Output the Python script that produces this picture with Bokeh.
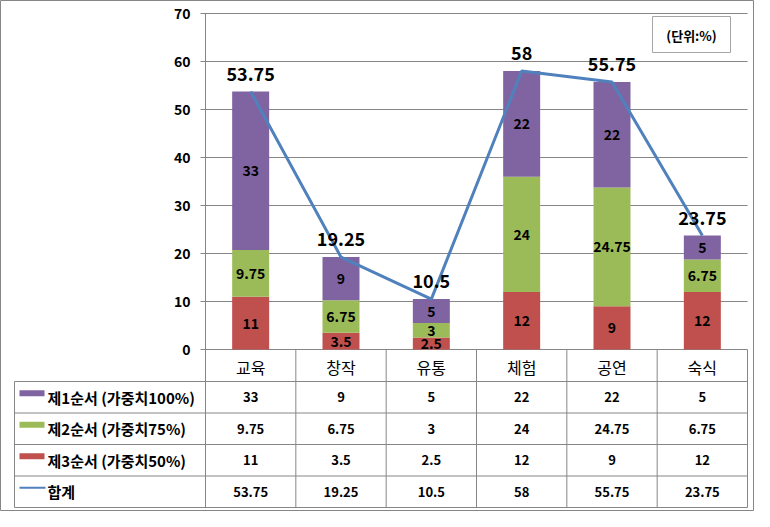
from bokeh.plotting import figure
from bokeh.models import Range1d, ColumnDataSource
from bokeh.core.properties import value
from bokeh.embed import file_html
from bokeh.resources import INLINE
import numpy as np

# ---------------- data ----------------
categories = ["교육", "창작", "유통", "체험", "공연", "숙식"]
first = [33, 9, 5, 22, 22, 5]            # 제1순서 (가중치100%)
second = [9.75, 6.75, 3, 24, 24.75, 6.75]  # 제2순서 (가중치75%)
third = [11, 3.5, 2.5, 12, 9, 12]        # 제3순서 (가중치50%)
total = [53.75, 19.25, 10.5, 58, 55.75, 23.75]  # 합계
series_names = ["제1순서 (가중치100%)", "제2순서 (가중치75%)", "제3순서 (가중치50%)", "합계"]
y_ticks = [0, 10, 20, 30, 40, 50, 60, 70]
unit_label = "(단위:%)"

# ---------------- styles ----------------
C_PURPLE = "#8064A2"
C_GREEN = "#9BBB59"
C_RED = "#C0504D"
C_BLUE = "#4F81BD"
C_GRID = "#868686"
FONT = value("Noto Sans CJK KR")

# layout helpers: page pixel -> data coordinate
PX_X = 542 / 6.0
PX_Y = 336 / 70.0
def X(px):
    return (px - 213) / PX_X
def Y(py):
    return (357 - py) / PX_Y

p = figure(width=754, height=511, output_backend="svg", toolbar_location=None,
           x_range=Range1d(X(8), X(762)), y_range=Range1d(Y(519), Y(8)),
           min_border=0, min_border_left=0, min_border_right=0,
           min_border_top=0, min_border_bottom=0)
p.xaxis.visible = False
p.yaxis.visible = False
p.grid.visible = False
p.outline_line_color = C_GRID
p.outline_line_width = 1
p.background_fill_color = "white"
p.border_fill_color = "white"

n = len(categories)
xs = np.arange(n) + 0.5

# gridlines + tick marks
p.segment(x0=[X(208)] * len(y_ticks), x1=[6] * len(y_ticks), y0=y_ticks, y1=y_ticks,
          line_color=C_GRID, line_width=1)
# vertical axis line
p.segment(x0=[0], x1=[0], y0=[0], y1=[max(y_ticks)], line_color=C_GRID, line_width=1)
# y tick labels
p.text(x=[X(198)] * len(y_ticks), y=y_ticks, text=[str(t) for t in y_ticks],
       text_font=FONT, text_font_style="bold", text_font_size="14px",
       text_align="right", text_baseline="middle", text_color="black")

# stacked bars
src = ColumnDataSource(dict(x=xs, third=third, second=second, first=first))
p.vbar_stack(["third", "second", "first"], x="x", width=37 / PX_X, source=src,
             color=[C_RED, C_GREEN, C_PURPLE], line_color=None)

# segment labels
t = np.array(third, float); s = np.array(second, float); f = np.array(first, float)
mids = [t / 2, t + s / 2, t + s + f / 2]
vals = [third, second, first]
for m, v in zip(mids, vals):
    p.text(x=xs, y=m, text=[f"{q:g}" for q in v], text_font=FONT, text_font_style="bold",
           text_font_size="14px", text_align="center", text_baseline="middle",
           text_color="black")

# total line
p.line(x=xs, y=total, line_color=C_BLUE, line_width=3)
p.text(x=xs, y=total, text=[f"{q:g}" for q in total], y_offset=-18,
       text_font=FONT, text_font_style="bold", text_font_size="18px",
       text_align="center", text_baseline="middle", text_color="black")

# unit box
p.quad(left=[X(660)], right=[X(738)], bottom=[Y(60)], top=[Y(24)],
       fill_color="white", line_color="#a6a6a6", line_width=1)
p.text(x=[X(699)], y=[Y(43)], text=[unit_label], text_font=FONT,
       text_font_size="13px", text_font_style="bold", text_align="center",
       text_baseline="middle", text_color="black")

# ---------------- data table ----------------
row_edges = [389, 420.5, 452, 483.5, 515]
table_left = X(22)
# vertical column separators
p.segment(x0=list(range(n + 1)), x1=list(range(n + 1)), y0=[0] * (n + 1),
          y1=[Y(row_edges[-1])] * (n + 1), line_color=C_GRID, line_width=1)
p.segment(x0=[table_left], x1=[table_left], y0=[Y(row_edges[0])], y1=[Y(row_edges[-1])],
          line_color=C_GRID, line_width=1)
# horizontal lines
p.segment(x0=[table_left] * len(row_edges), x1=[6] * len(row_edges),
          y0=[Y(r) for r in row_edges], y1=[Y(r) for r in row_edges],
          line_color=C_GRID, line_width=1)

# header
p.text(x=xs, y=[Y(374)] * n, text=categories, text_font=FONT, text_font_size="16px",
       text_align="center", text_baseline="middle", text_color="black")

rows = [first, second, third, total]
row_centers = [(row_edges[i] + row_edges[i + 1]) / 2 for i in range(4)]
for rc, rv in zip(row_centers, rows):
    p.text(x=xs, y=[Y(rc)] * n, text=[f"{q:g}" for q in rv], text_font=FONT,
           text_font_style="bold", text_font_size="13px", text_align="center",
           text_baseline="middle", text_color="black")

# row labels
p.text(x=[X(55)] * 4, y=[Y(rc) for rc in row_centers], text=series_names, text_font=FONT,
       text_font_style="bold", text_font_size="15px", text_align="left",
       text_baseline="middle", text_color="black")
# legend keys
p.rect(x=[X(39.5)] * 3, y=[Y(rc - 4) for rc in row_centers[:3]], width=25, height=6,
       width_units="screen", height_units="screen",
       fill_color=[C_PURPLE, C_GREEN, C_RED], line_color=None)
p.segment(x0=[X(27)], x1=[X(53)], y0=[Y(row_centers[3] - 4)], y1=[Y(row_centers[3] - 4)],
          line_color=C_BLUE, line_width=2)

open("out.html", "w").write(file_html(p, INLINE))
